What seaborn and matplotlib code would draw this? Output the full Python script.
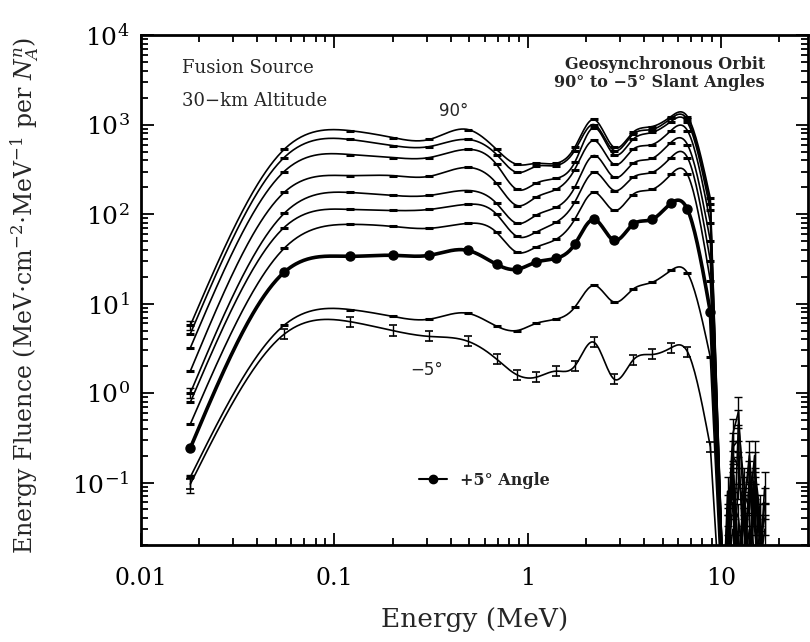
import numpy as np
import pandas as pd
import matplotlib
matplotlib.use("Agg")
import matplotlib.pyplot as plt
import seaborn as sns
from matplotlib.lines import Line2D
from matplotlib.ticker import FixedLocator, NullFormatter, LogLocator

# Energy grid of the computed points (MeV)
energy = [0.018, 0.055, 0.12, 0.2, 0.31, 0.49, 0.69, 0.88, 1.1, 1.4, 1.75,
          2.2, 2.8, 3.5, 4.4, 5.5, 6.7, 8.8, 10.3]

# Fluence per slant angle, from 90 deg (top) to -5 deg (bottom); c8 is +5 deg
c1 = [5.7, 530, 860, 720, 685, 885, 530, 360, 370, 370, 557, 1145, 557, 820, 955, 1235, 1235, 150, 0.005]
c2 = [4.6, 430, 685, 585, 570, 685, 465, 293, 342, 350, 515, 1005, 515, 780, 885, 1175, 1145, 130, 0.005]
c3 = [3.2, 300, 465, 430, 430, 530, 360, 189, 221, 251, 379, 930, 465, 685, 820, 1085, 1060, 110, 0.005]
c4 = [1.76, 175, 270, 270, 265, 333, 221, 125, 154, 189, 316, 667, 360, 530, 600, 860, 860, 80, 0.005]
c5 = [1.0, 102, 175, 162, 162, 184, 132, 79, 97, 119, 199, 453, 258, 369, 420, 633, 600, 50, 0.005]
c6 = [0.79, 71, 113, 110, 113, 129, 100, 56.5, 62.7, 81, 136, 293, 184, 258, 293, 430, 430, 30, 0.005]
c7 = [0.45, 41.5, 77, 73, 69.5, 79, 62.7, 37.5, 42.6, 52.3, 87.5, 175, 110, 166, 189, 278, 278, 18, 0.005]
c8 = [0.243, 22.4, 33.8, 34.7, 34.7, 39.4, 27.5, 24.2, 29, 32.1, 46, 87.5, 51, 77, 87.5, 132, 113, 8, 0.005]
c9 = [0.115, 5.74, 8.6, 7.2, 6.7, 7.8, 5.6, 5.0, 6.0, 6.7, 9.1, 16, 10.4, 14.5, 17.3, 23.5, 22, 2.5, 0.002]
c10 = [0.096, 4.55, 6.3, 5.0, 4.3, 3.8, 2.4, 1.6, 1.5, 1.76, 2.0, 3.7, 1.43, 2.33, 2.7, 3.2, 2.9, 0.25, 0.001]

# noisy high-energy tail (statistics run out above 10 MeV)
tail_energy = [10.8, 11.5, 12.3, 13.1, 14.0, 14.9, 15.8, 16.8]
tail1 = [0.03, 0.35, 0.62, 0.05, 0.2, 0.04, 0.01, 0.09]
tail2 = [0.08, 0.01, 0.45, 0.1, 0.01, 0.15, 0.05, 0.01]
tail3 = [0.01, 0.25, 0.3, 0.01, 0.12, 0.03, 0.01, 0.06]
tail4 = [0.05, 0.1, 0.01, 0.08, 0.05, 0.2, 0.01, 0.03]
tail5 = [0.01, 0.2, 0.15, 0.03, 0.01, 0.08, 0.04, 0.01]
tail6 = [0.04, 0.01, 0.1, 0.06, 0.15, 0.01, 0.02, 0.04]
tail7 = [0.01, 0.06, 0.04, 0.01, 0.07, 0.05, 0.01, 0.01]
tail8 = [0.03, 0.12, 0.01, 0.05, 0.01, 0.1, 0.03, 0.01]
tail9 = [0.01, 0.03, 0.02, 0.01, 0.03, 0.01, 0.01, 0.01]

curves = [c1, c2, c3, c4, c5, c6, c7, c8, c9, c10]
tails = [tail1, tail2, tail3, tail4, tail5, tail6, tail7, tail8, tail9, None]

xtick_vals = [0.01, 0.1, 1, 10]
xtick_labels = ["0.01", "0.1", "1", "10"]


def natural_spline(x, y, xn):
    # plain natural cubic spline, used only to draw smooth lines between points
    n = len(x)
    h = np.diff(x)
    A = np.zeros((n, n))
    b = np.zeros(n)
    A[0, 0] = A[-1, -1] = 1
    for i in range(1, n - 1):
        A[i, i - 1] = h[i - 1]
        A[i, i] = 2 * (h[i - 1] + h[i])
        A[i, i + 1] = h[i]
        b[i] = 3 * ((y[i + 1] - y[i]) / h[i] - (y[i] - y[i - 1]) / h[i - 1])
    c = np.linalg.solve(A, b)
    bb = np.diff(y) / h - h * (2 * c[:-1] + c[1:]) / 3
    d = np.diff(c) / (3 * h)
    idx = np.clip(np.searchsorted(x, xn) - 1, 0, n - 2)
    dx = xn - x[idx]
    return y[idx] + bb[idx] * dx + c[idx] * dx ** 2 + d[idx] * dx ** 3


sns.set_style("ticks")
plt.rcParams["font.family"] = ["DejaVu Serif"]
plt.rcParams["mathtext.fontset"] = "dejavuserif"

fig = plt.figure(figsize=(8.1, 6.42), dpi=100)
ax = fig.add_axes([0.174, 0.151, 0.823, 0.794])

E = np.array(energy)
n_smooth = len(energy) - 1  # spline up to 8.8 MeV, straight segments afterwards
lx = np.log10(E[:n_smooth])

for k, (vals, tail) in enumerate(zip(curves, tails)):
    v = np.array(vals, dtype=float)
    ly = np.log10(v[:n_smooth])
    xs = np.linspace(lx[0], lx[-1], 400)
    ys = natural_spline(lx, ly, xs)
    x_line = list(10 ** xs) + [E[-1]]
    y_line = list(10 ** ys) + [v[-1]]
    if tail is not None:
        x_line += tail_energy
        y_line += tail
    df = pd.DataFrame({"E": x_line, "F": y_line})
    thick = (k == 7)
    sns.lineplot(data=df, x="E", y="F", color="black", lw=2.6 if thick else 1.2,
                 sort=False, estimator=None, ax=ax)

    # markers at the computed points, with small statistical error bars
    xm = E[:n_smooth]
    ym = v[:n_smooth]
    if thick:
        ax.plot(xm, ym, "o", color="black", ms=6.5, zorder=4)
    elif k == 9:
        ax.errorbar(xm, ym, yerr=[ym * 0.12, ym * 0.14], fmt="none", ecolor="black",
                    elinewidth=1.0, capsize=3, capthick=1.2)
    else:
        ax.plot(xm, ym, "_", color="black", ms=6, mew=2.2, zorder=4)
    if tail is not None:
        t = np.array(tail)
        ax.errorbar(tail_energy, t, yerr=[t * 0.35, t * 0.45], fmt="none", ecolor="black",
                    elinewidth=1.0, capsize=3, capthick=1.0)

ax.errorbar([energy[0]] * 3, [c1[0], c5[0], c10[0]], yerr=[[0.6, 0.12, 0.02], [0.7, 0.14, 0.025]],
            fmt="none", ecolor="black", elinewidth=1.0, capsize=3)

ax.set_xscale("log")
ax.set_yscale("log")
ax.set_xlim(0.01, 28)
ax.set_ylim(0.02, 1e4)

ax.xaxis.set_major_locator(FixedLocator(xtick_vals))
ax.set_xticklabels(xtick_labels)
ax.xaxis.set_minor_locator(LogLocator(base=10, subs=np.arange(2, 10)))
ax.xaxis.set_minor_formatter(NullFormatter())
ax.yaxis.set_major_locator(LogLocator(base=10, numticks=10))
ax.yaxis.set_minor_locator(LogLocator(base=10, subs=np.arange(2, 10), numticks=20))
ax.yaxis.set_minor_formatter(NullFormatter())

ax.tick_params(which="both", direction="in", top=True, right=True, width=1.3, colors="black")
ax.tick_params(which="major", length=9)
ax.tick_params(which="minor", length=5)
ax.tick_params(axis="x", which="major", labelsize=17, pad=16)
ax.tick_params(axis="y", which="major", labelsize=18, pad=8)
for sp in ax.spines.values():
    sp.set_linewidth(2.0)
    sp.set_color("black")

ax.set_xlabel("Energy (MeV)", fontsize=19, labelpad=12)
ax.set_ylabel(r"Energy Fluence (MeV$\cdot$cm$^{-2}$$\cdot$MeV$^{-1}$ per $N_A^n$)", fontsize=17)
ax.yaxis.set_label_coords(-0.15, 0.49)

ax.text(0.061, 0.935, "Fusion Source", transform=ax.transAxes, fontsize=13, va="center")
ax.text(0.061, 0.871, "30\u2212km Altitude", transform=ax.transAxes, fontsize=13, va="center")
ax.text(0.936, 0.943, "Geosynchronous Orbit", transform=ax.transAxes, fontsize=11.5,
        ha="right", va="center", fontweight="bold")
ax.text(0.936, 0.908, "90\u00b0 to \u22125\u00b0 Slant Angles", transform=ax.transAxes,
        fontsize=11.5, ha="right", va="center", fontweight="bold")
ax.text(0.469, 0.851, "90\u00b0", transform=ax.transAxes, fontsize=12, ha="center",
        va="center", family=["DejaVu Sans"])
ax.text(0.429, 0.343, "\u22125\u00b0", transform=ax.transAxes, fontsize=12, ha="center",
        va="center", family=["DejaVu Sans"])

handle = Line2D([], [], color="black", lw=1.5, marker="o", ms=6)
ax.legend(handles=[handle], labels=["+5\u00b0 Angle"], loc="center left",
          bbox_to_anchor=(0.395, 0.127), frameon=False, handlelength=1.8,
          handletextpad=0.8, prop={"size": 11.5, "weight": "bold"})

fig.savefig("out.png", dpi=100)
